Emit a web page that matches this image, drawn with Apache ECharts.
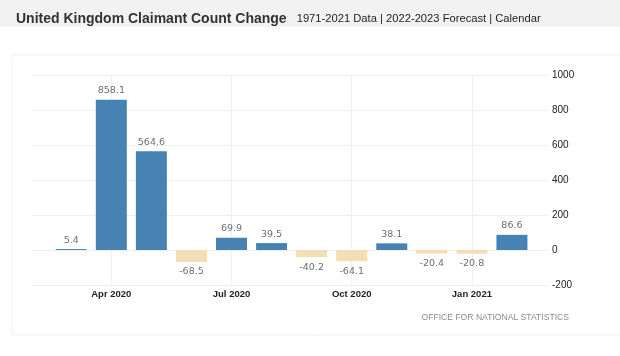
<!DOCTYPE html>
<html>
<head>
<meta charset="utf-8">
<script src="https://cdn.jsdelivr.net/npm/echarts@6/dist/echarts.min.js"></script>
<style>
html,body{margin:0;padding:0;background:#fff;}
#chart{width:620px;height:356px;}
</style>
</head>
<body>
<div id="chart"></div>
<script>
const months = ['Mar 2020','Apr 2020','May 2020','Jun 2020','Jul 2020','Aug 2020','Sep 2020','Oct 2020','Nov 2020','Dec 2020','Jan 2021','Feb 2021'];
const changes = [5.4, 858.1, 564.6, -68.5, 69.9, 39.5, -40.2, -64.1, 38.1, -20.4, -20.8, 86.6];
const labelledMonths = ['Apr 2020','Jul 2020','Oct 2020','Jan 2021'];
const yTicks = [-200, 0, 200, 400, 600, 800, 1000];
const titleText = 'United Kingdom Claimant Count Change';
const subtitleText = '1971-2021 Data | 2022-2023 Forecast | Calendar';
const sourceText = 'OFFICE FOR NATIONAL STATISTICS';

const labelIdx = labelledMonths.map(m => months.indexOf(m));

const chart = echarts.init(document.getElementById('chart'), null, {renderer:'canvas'});
chart.setOption({
  animation: false,
  backgroundColor: '#ffffff',
  graphic: [
    {type:'rect', z:-10, shape:{x:0,y:0,width:620,height:27}, style:{fill:'#f2f2f2'}},
    {type:'rect', z:-10, shape:{x:12,y:55,width:610,height:280},
      style:{fill:'#ffffff', stroke:'#f5f5f5', lineWidth:1, shadowBlur:3, shadowColor:'rgba(0,0,0,0.035)'}},
    {type:'text', right: 51, top: 313, style:{text: sourceText, fill:'#8a8a8a', font:'8.6px "Liberation Sans", Arial, sans-serif'}}
  ],
  title: {
    left: 11, top: 5,
    text: '{a|' + titleText + '}  {b|' + subtitleText + '}',
    textStyle: {
      rich: {
        a: {fontFamily:'"Liberation Sans", Arial, sans-serif', fontWeight:'bold', fontSize:14, color:'#333'},
        b: {fontFamily:'"Liberation Sans", Arial, sans-serif', fontWeight:'normal', fontSize:11.2, color:'#222'}
      }
    }
  },
  grid: {left: 32, right: 72, top: 75, bottom: 71},
  xAxis: {
    type: 'value',
    min: -0.98, max: 11.9,
    axisLine: {show:false},
    axisTick: {show:false, customValues: labelIdx},
    axisLabel: {
      customValues: labelIdx,
      formatter: v => months[Math.round(v)] || '',
      color:'#222', fontSize:9.5, fontWeight:'bold', fontFamily:'"Liberation Sans", Arial, sans-serif', margin: 4
    },
    splitLine: {show:true, lineStyle:{color:'#efefef', width:1}}
  },
  yAxis: {
    type: 'value',
    position: 'right',
    min: yTicks[0], max: yTicks[yTicks.length-1], interval: 200,
    axisLine: {show:false},
    axisTick: {show:false},
    axisLabel: {formatter: v => String(v), color:'#222', fontSize:10, fontFamily:'"Liberation Sans", Arial, sans-serif', margin: 4},
    splitLine: {show:true, lineStyle:{color:'#efefef', width:1}}
  },
  series: [{
    type: 'bar',
    barWidth: 31,
    data: changes.map((v, i) => ({
      value: [i, v],
      itemStyle: {color: v >= 0 ? '#4682b4' : '#f5deb3'},
      label: {position: v >= 0 ? 'top' : 'bottom', distance: v >= 0 ? 4 : 5}
    })),
    label: {
      show: true,
      formatter: p => String(p.value[1]),
      color: '#6e6e6e', fontSize: 9.5, fontFamily: '"DejaVu Sans", sans-serif'
    }
  }]
});
</script>
</body>
</html>
